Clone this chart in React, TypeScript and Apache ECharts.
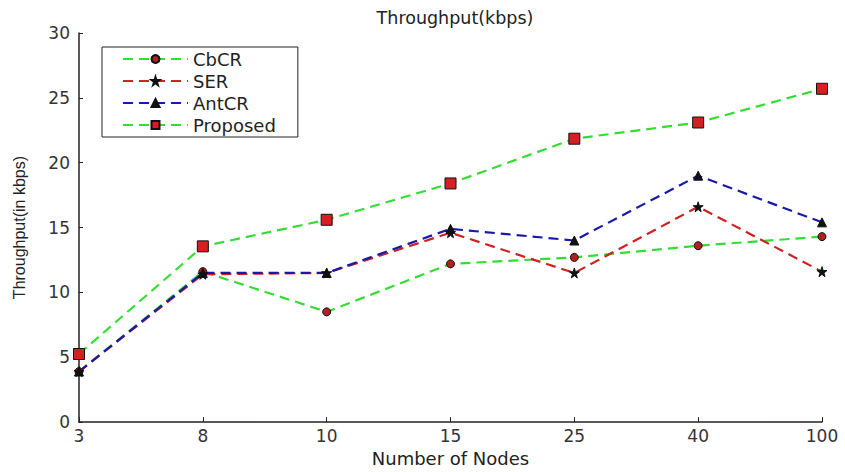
import React, { useEffect, useRef } from "react";
import * as echarts from "echarts";

const categories = ["3", "8", "10", "15", "25", "40", "100"];
const cbcr = [3.9, 11.6, 8.5, 12.2, 12.7, 13.6, 14.3];
const ser = [3.9, 11.4, 11.5, 14.6, 11.5, 16.6, 11.6];
const antcr = [3.9, 11.5, 11.5, 14.9, 14.0, 19.0, 15.4];
const proposed = [5.25, 13.55, 15.6, 18.4, 21.85, 23.1, 25.7];

const WIDE = "DejaVu Sans, Verdana, sans-serif";
const NARROW = "Liberation Sans, Arial, sans-serif";
const STAR =
  "path://M50,0 L61,35 L98,35 L68,57 L79,91 L50,70 L21,91 L32,57 L2,35 L39,35 Z";

export default function App() {
  const ref = useRef<HTMLDivElement>(null);
  useEffect(() => {
    if (!ref.current) return;
    const chart = echarts.init(ref.current, undefined, { renderer: "svg" });
    const mk = (name: string, data: number[], color: string, symbol: string, symbolSize: number, fill: string) => ({
      name,
      type: "line",
      data,
      symbol,
      symbolSize,
      itemStyle: { color: fill, borderColor: "#111", borderWidth: 1 },
      lineStyle: { color, width: 2.2, type: [10, 6] },
      z: 2,
    });
    chart.setOption({
      animation: false,
      backgroundColor: "#fff",
      title: {
        text: "Throughput(kbps)",
        left: 450,
        textAlign: "center",
        top: 4,
        textStyle: { fontFamily: WIDE, fontSize: 17.5, fontWeight: "normal", color: "#222" },
      },
      legend: {
        orient: "vertical",
        left: 102,
        top: 47,
        padding: [3, 22, 3, 20],
        itemGap: 4,
        itemWidth: 65,
        itemHeight: 10,
        backgroundColor: "#fff",
        borderColor: "#222",
        borderWidth: 1,
        borderRadius: 0,
        textStyle: { fontFamily: WIDE, fontSize: 18, color: "#222" },
        data: ["CbCR", "SER", "AntCR", "Proposed"],
      },
      grid: { left: 79, right: 23, top: 33, bottom: 45, containLabel: false },
      xAxis: {
        type: "category",
        data: categories,
        boundaryGap: false,
        name: "Number of Nodes",
        nameLocation: "middle",
        nameGap: 25,
        nameTextStyle: { fontFamily: WIDE, fontSize: 18, color: "#222" },
        axisLine: { lineStyle: { color: "#222", width: 1.5 } },
        axisTick: { inside: true, length: 5, lineStyle: { color: "#222" } },
        axisLabel: { fontFamily: WIDE, fontSize: 17, color: "#333", margin: 5 },
        splitLine: { show: false },
      },
      yAxis: {
        type: "value",
        min: 0,
        max: 30,
        interval: 5,
        name: "Throughput(in kbps)",
        nameLocation: "middle",
        nameGap: 52,
        nameTextStyle: { fontFamily: NARROW, fontSize: 16, color: "#222" },
        axisLine: { show: true, lineStyle: { color: "#222", width: 1.5 } },
        axisTick: { show: true, inside: true, length: 4, lineStyle: { color: "#222" } },
        axisLabel: { fontFamily: WIDE, fontSize: 17, color: "#333", margin: 9 },
        splitLine: { show: false },
      },
      series: [
        mk("CbCR", cbcr, "#33dd33", "circle", 8, "#b02020"),
        mk("SER", ser, "#cc2222", STAR, 10, "#111"),
        mk("AntCR", antcr, "#1a1aa8", "triangle", 9, "#111"),
        mk("Proposed", proposed, "#33dd33", "rect", 11, "#d42020"),
      ],
    });
    return () => chart.dispose();
  }, []);
  return (
    <div
      ref={ref}
      style={{ position: "fixed", left: 0, top: 0, width: 845, height: 472, background: "#fff" }}
    />
  );
}
